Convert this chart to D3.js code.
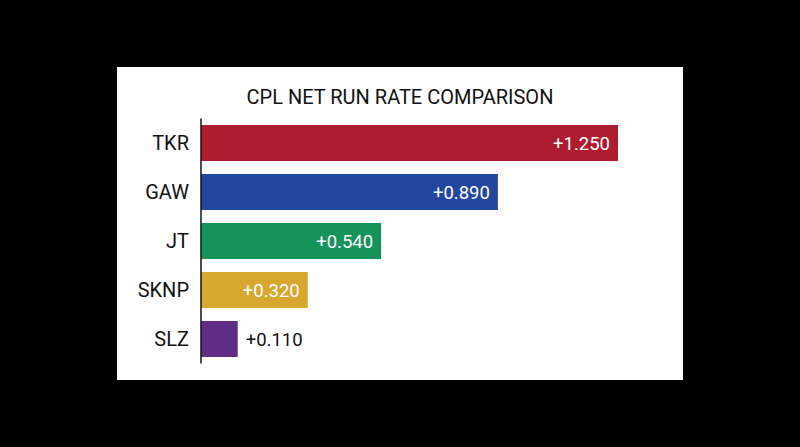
<!DOCTYPE html>
<html>
<head>
<meta charset="UTF-8">
<title>CPL Net Run Rate Comparison</title>
<script src="https://cdnjs.cloudflare.com/ajax/libs/d3/7.8.5/d3.min.js"></script>
<style>
body { margin:0; background:#000; }
text { font-family: Roboto, "Liberation Sans", sans-serif; }
.title { font-size:20px; fill:#111; }
.team { font-size:20px; fill:#111; }
.val { font-size:18.5px; }
</style>
</head>
<body>
<div id="chart"></div>
<script>
var teams = ["TKR", "GAW", "JT", "SKNP", "SLZ"];
var nrr = [1.25, 0.89, 0.54, 0.32, 0.11];
var colors = ["#ad1c2f", "#2346a0", "#16935b", "#d7a72f", "#5f2c86"];

var width = 800, height = 447;
var svg = d3.select("#chart").append("svg").attr("width", width).attr("height", height);

svg.append("rect").attr("width", width).attr("height", height).attr("fill", "#000");
// white panel
svg.append("rect").attr("x", 117).attr("y", 67).attr("width", 566).attr("height", 313).attr("fill", "#fff");

svg.append("text")
  .attr("class", "title")
  .attr("x", 400).attr("y", 104)
  .attr("text-anchor", "middle")
  .text("CPL NET RUN RATE COMPARISON");

var data = teams.map(function(t, i){ return {team:t, val:nrr[i], color:colors[i]}; });

var x = d3.scaleLinear().domain([0, d3.max(nrr)]).range([201, 618]);
var y = d3.scaleBand().domain(teams).range([118.5, 363.5]).paddingInner(0.265).paddingOuter(0.133);

svg.selectAll(".bar").data(data).enter().append("rect")
  .attr("class", "bar")
  .attr("x", x(0))
  .attr("y", function(d){ return y(d.team); })
  .attr("width", function(d){ return x(d.val) - x(0); })
  .attr("height", y.bandwidth())
  .attr("fill", function(d){ return d.color; });

// team labels
svg.selectAll(".team").data(data).enter().append("text")
  .attr("class", "team")
  .attr("x", x(0) - 12)
  .attr("y", function(d){ return y(d.team) + y.bandwidth()/2; })
  .attr("dy", "0.36em")
  .attr("text-anchor", "end")
  .text(function(d){ return d.team; });

// value labels: inside the bar when it fits, outside otherwise
svg.selectAll(".val").data(data).enter().append("text")
  .attr("class", "val")
  .attr("y", function(d){ return y(d.team) + y.bandwidth()/2; })
  .attr("dy", "0.36em")
  .each(function(d){
    var inside = (x(d.val) - x(0)) > 70;
    d3.select(this)
      .attr("x", inside ? x(d.val) - 8 : x(d.val) + 8)
      .attr("text-anchor", inside ? "end" : "start")
      .attr("fill", inside ? "#fff" : "#111");
  })
  .text(function(d){ return "+" + d.val.toFixed(3); });

// axis line
svg.append("line")
  .attr("x1", x(0)).attr("x2", x(0))
  .attr("y1", y.range()[0]).attr("y2", y.range()[1])
  .attr("stroke", "#111").attr("stroke-width", 1.5);
</script>
</body>
</html>
